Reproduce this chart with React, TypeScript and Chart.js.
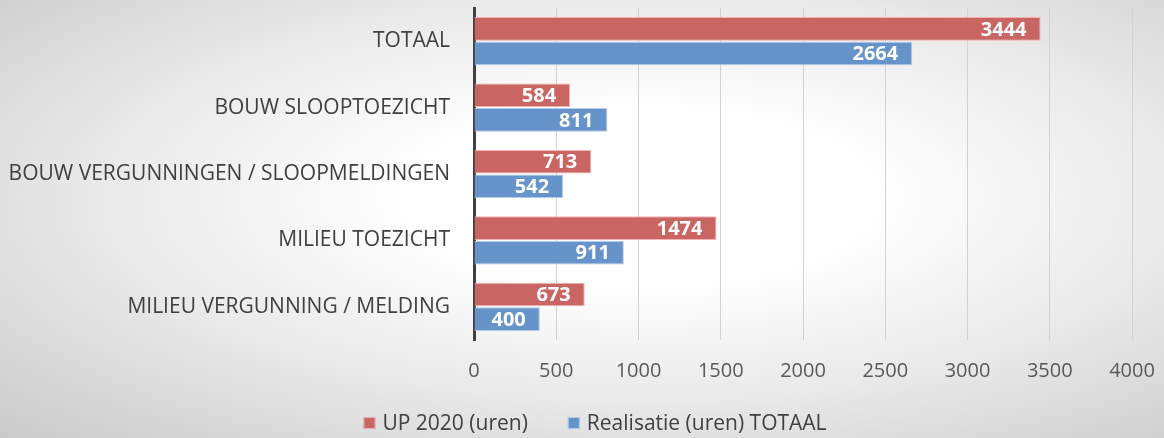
import React, { useEffect, useRef } from "react";
import { Chart, registerables } from "chart.js";

Chart.register(...registerables);

const categories = [
  "TOTAAL",
  "BOUW SLOOPTOEZICHT",
  "BOUW VERGUNNINGEN / SLOOPMELDINGEN",
  "MILIEU TOEZICHT",
  "MILIEU VERGUNNING / MELDING",
];
const seriesNames = ["UP 2020 (uren)", "Realisatie (uren) TOTAAL"];
const upValues = [3444, 584, 713, 1474, 673];
const realValues = [2664, 811, 542, 911, 400];
const xTicks = [0, 500, 1000, 1500, 2000, 2500, 3000, 3500, 4000];

const FONT = "'Open Sans', 'DejaVu Sans', sans-serif";
const RED = "rgb(201,101,99)";
const BLUE = "rgb(102,147,201)";

const labelPlugin = {
  id: "barLabels",
  afterDatasetsDraw(chart: any) {
    const ctx = chart.ctx;
    ctx.save();
    ctx.fillStyle = "#ffffff";
    ctx.font = `bold 20px ${FONT}`;
    ctx.textAlign = "right";
    ctx.textBaseline = "middle";
    chart.data.datasets.forEach((ds: any, di: number) => {
      const meta = chart.getDatasetMeta(di);
      meta.data.forEach((bar: any, i: number) => {
        ctx.fillText(String(ds.data[i]), bar.x - 14, bar.y + 1);
      });
    });
    ctx.restore();
  },
};

const legendPlugin = {
  id: "customLegend",
  afterDraw(chart: any) {
    const ctx = chart.ctx;
    ctx.save();
    ctx.font = `21px ${FONT}`;
    ctx.textBaseline = "middle";
    ctx.textAlign = "left";
    const box = 12;
    const gapBoxText = 7;
    const gapItems = 40;
    const items = chart.data.datasets.map((ds: any) => ({
      label: ds.label,
      color: ds.backgroundColor,
      w: box + gapBoxText + ctx.measureText(ds.label).width,
    }));
    const total =
      items.reduce((s: number, it: any) => s + it.w, 0) + gapItems * (items.length - 1);
    let x = 595 - total / 2;
    const y = 423;
    items.forEach((it: any) => {
      ctx.fillStyle = it.color;
      ctx.fillRect(x, y - box / 2, box, box);
      ctx.strokeStyle = "rgba(255,255,255,0.5)";
      ctx.lineWidth = 1;
      ctx.strokeRect(x + 0.5, y - box / 2 + 0.5, box - 1, box - 1);
      ctx.fillStyle = "#404040";
      ctx.fillText(it.label, x + box + gapBoxText, y + 1);
      x += it.w + gapItems;
    });
    ctx.restore();
  },
};

export default function App() {
  const ref = useRef<HTMLCanvasElement>(null);
  useEffect(() => {
    document.body.style.margin = "0";
    const chart = new Chart(ref.current!, {
      type: "bar",
      data: {
        labels: categories,
        datasets: [
          {
            label: seriesNames[0],
            data: upValues,
            backgroundColor: RED,
            borderColor: "rgba(240,170,168,0.9)",
            borderWidth: 1,
            categoryPercentage: 0.74,
            barPercentage: 0.96,
          },
          {
            label: seriesNames[1],
            data: realValues,
            backgroundColor: BLUE,
            borderColor: "rgba(170,198,232,0.9)",
            borderWidth: 1,
            categoryPercentage: 0.74,
            barPercentage: 0.96,
          },
        ],
      },
      options: {
        indexAxis: "y",
        animation: false,
        responsive: false,
        maintainAspectRatio: false,
        layout: { padding: { left: 0, right: 32, top: 8, bottom: 48 } },
        scales: {
          x: {
            min: 0,
            max: 4000,
            afterBuildTicks(scale: any) {
              scale.ticks = xTicks.map((v) => ({ value: v }));
            },
            afterFit(scale: any) {
              scale.height = 50;
              scale.paddingLeft = 0;
              scale.paddingRight = 0;
            },
            grid: { color: "#d2d2d2", lineWidth: 1, drawTicks: false },
            border: { display: false },
            ticks: {
              color: "#595959",
              font: { family: FONT, size: 20 },
              padding: 19,
              callback: (v: any) => String(v),
            },
          },
          y: {
            afterFit(scale: any) {
              scale.width = 474;
              scale.paddingTop = 0;
              scale.paddingBottom = 0;
            },
            grid: { display: false, drawTicks: false },
            border: { display: true, color: "#404040", width: 3 },
            ticks: {
              color: "#404040",
              font: { family: FONT, size: 21 },
              padding: 24,
            },
          },
        },
        plugins: {
          legend: { display: false },
          tooltip: { enabled: false },
        },
      },
      plugins: [labelPlugin, legendPlugin],
    });
    return () => chart.destroy();
  }, []);
  return (
    <div
      style={{
        width: 1164,
        height: 438,
        background:
          "radial-gradient(ellipse farthest-corner at 55% 45%, #ffffff 0%, #ffffff 25%, #e9e9e9 60%, #cacaca 100%)",
      }}
    >
      <canvas ref={ref} width={1164} height={438} style={{ display: "block" }} />
    </div>
  );
}
